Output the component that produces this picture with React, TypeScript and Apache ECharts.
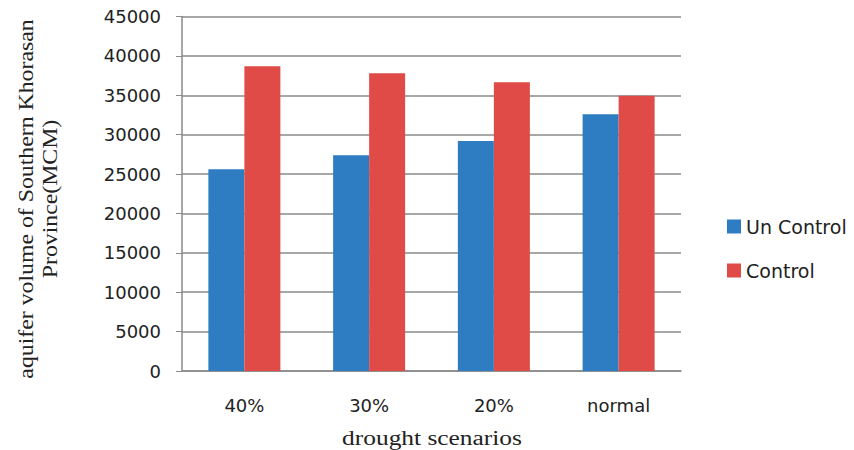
import React, { useEffect, useRef } from "react";
import * as echarts from "echarts";

const categories = ["40%", "30%", "20%", "normal"];
const unControl = [25600, 27400, 29200, 32600];
const control = [38700, 37800, 36650, 34950];
const yTicks = { min: 0, max: 45000, interval: 5000 };
const yTitle = "aquifer volume of Southern Khorasan\nProvince(MCM)";
const xTitle = "drought scenarios";

const SANS = "DejaVu Sans";
const SERIF = "Liberation Serif";
const INK = "#222";
const AXIS = "#8a8a8a";

export default function App() {
  const ref = useRef<HTMLDivElement>(null);

  useEffect(() => {
    if (!ref.current) return;
    const chart = echarts.init(ref.current, null, { renderer: "svg" });
    chart.setOption({
      animation: false,
      backgroundColor: "#ffffff",
      grid: { left: 182, right: 173, top: 16.5, bottom: 79, containLabel: false },
      legend: {
        orient: "vertical",
        left: 722,
        top: 212,
        itemWidth: 14,
        itemHeight: 14,
        itemGap: 25,
        icon: "rect",
        textStyle: { fontFamily: SANS, fontSize: 19, color: INK },
        data: ["Un Control", "Control"],
      },
      xAxis: {
        type: "category",
        data: categories,
        axisLine: { lineStyle: { color: AXIS, width: 1.5 } },
        axisTick: { show: false },
        axisLabel: { fontFamily: SANS, fontSize: 18, color: INK, margin: 25 },
      },
      yAxis: {
        type: "value",
        min: yTicks.min,
        max: yTicks.max,
        interval: yTicks.interval,
        axisLine: { show: true, lineStyle: { color: AXIS, width: 1.5 } },
        axisTick: { show: true, length: 6, lineStyle: { color: AXIS } },
        splitLine: { lineStyle: { color: AXIS, width: 1.5 } },
        axisLabel: {
          fontFamily: SANS,
          fontSize: 18,
          color: INK,
          margin: 21,
          formatter: (v: number) => String(v),
        },
      },
      graphic: [
        {
          type: "text",
          x: 38,
          y: 199,
          rotation: Math.PI / 2,
          scaleX: 1.19,
          style: {
            text: yTitle,
            fontFamily: SERIF,
            fontSize: 20,
            lineHeight: 24,
            fill: INK,
            textAlign: "center",
            textVerticalAlign: "middle",
          },
        },
        {
          type: "text",
          x: 432,
          y: 428,
          scaleX: 1.27,
          style: {
            text: xTitle,
            fontFamily: SERIF,
            fontSize: 20,
            fill: INK,
            textAlign: "center",
            textVerticalAlign: "top",
          },
        },
      ],
      series: [
        {
          name: "Un Control",
          type: "bar",
          data: unControl,
          barWidth: 36,
          barGap: "0%",
          itemStyle: { color: "#2e7cc2" },
        },
        {
          name: "Control",
          type: "bar",
          data: control,
          barWidth: 36,
          barGap: "0%",
          itemStyle: { color: "#e04b47" },
        },
      ],
    });
    return () => chart.dispose();
  }, []);

  return (
    <div
      ref={ref}
      style={{ position: "fixed", left: 0, top: 0, width: 854, height: 450 }}
    />
  );
}
